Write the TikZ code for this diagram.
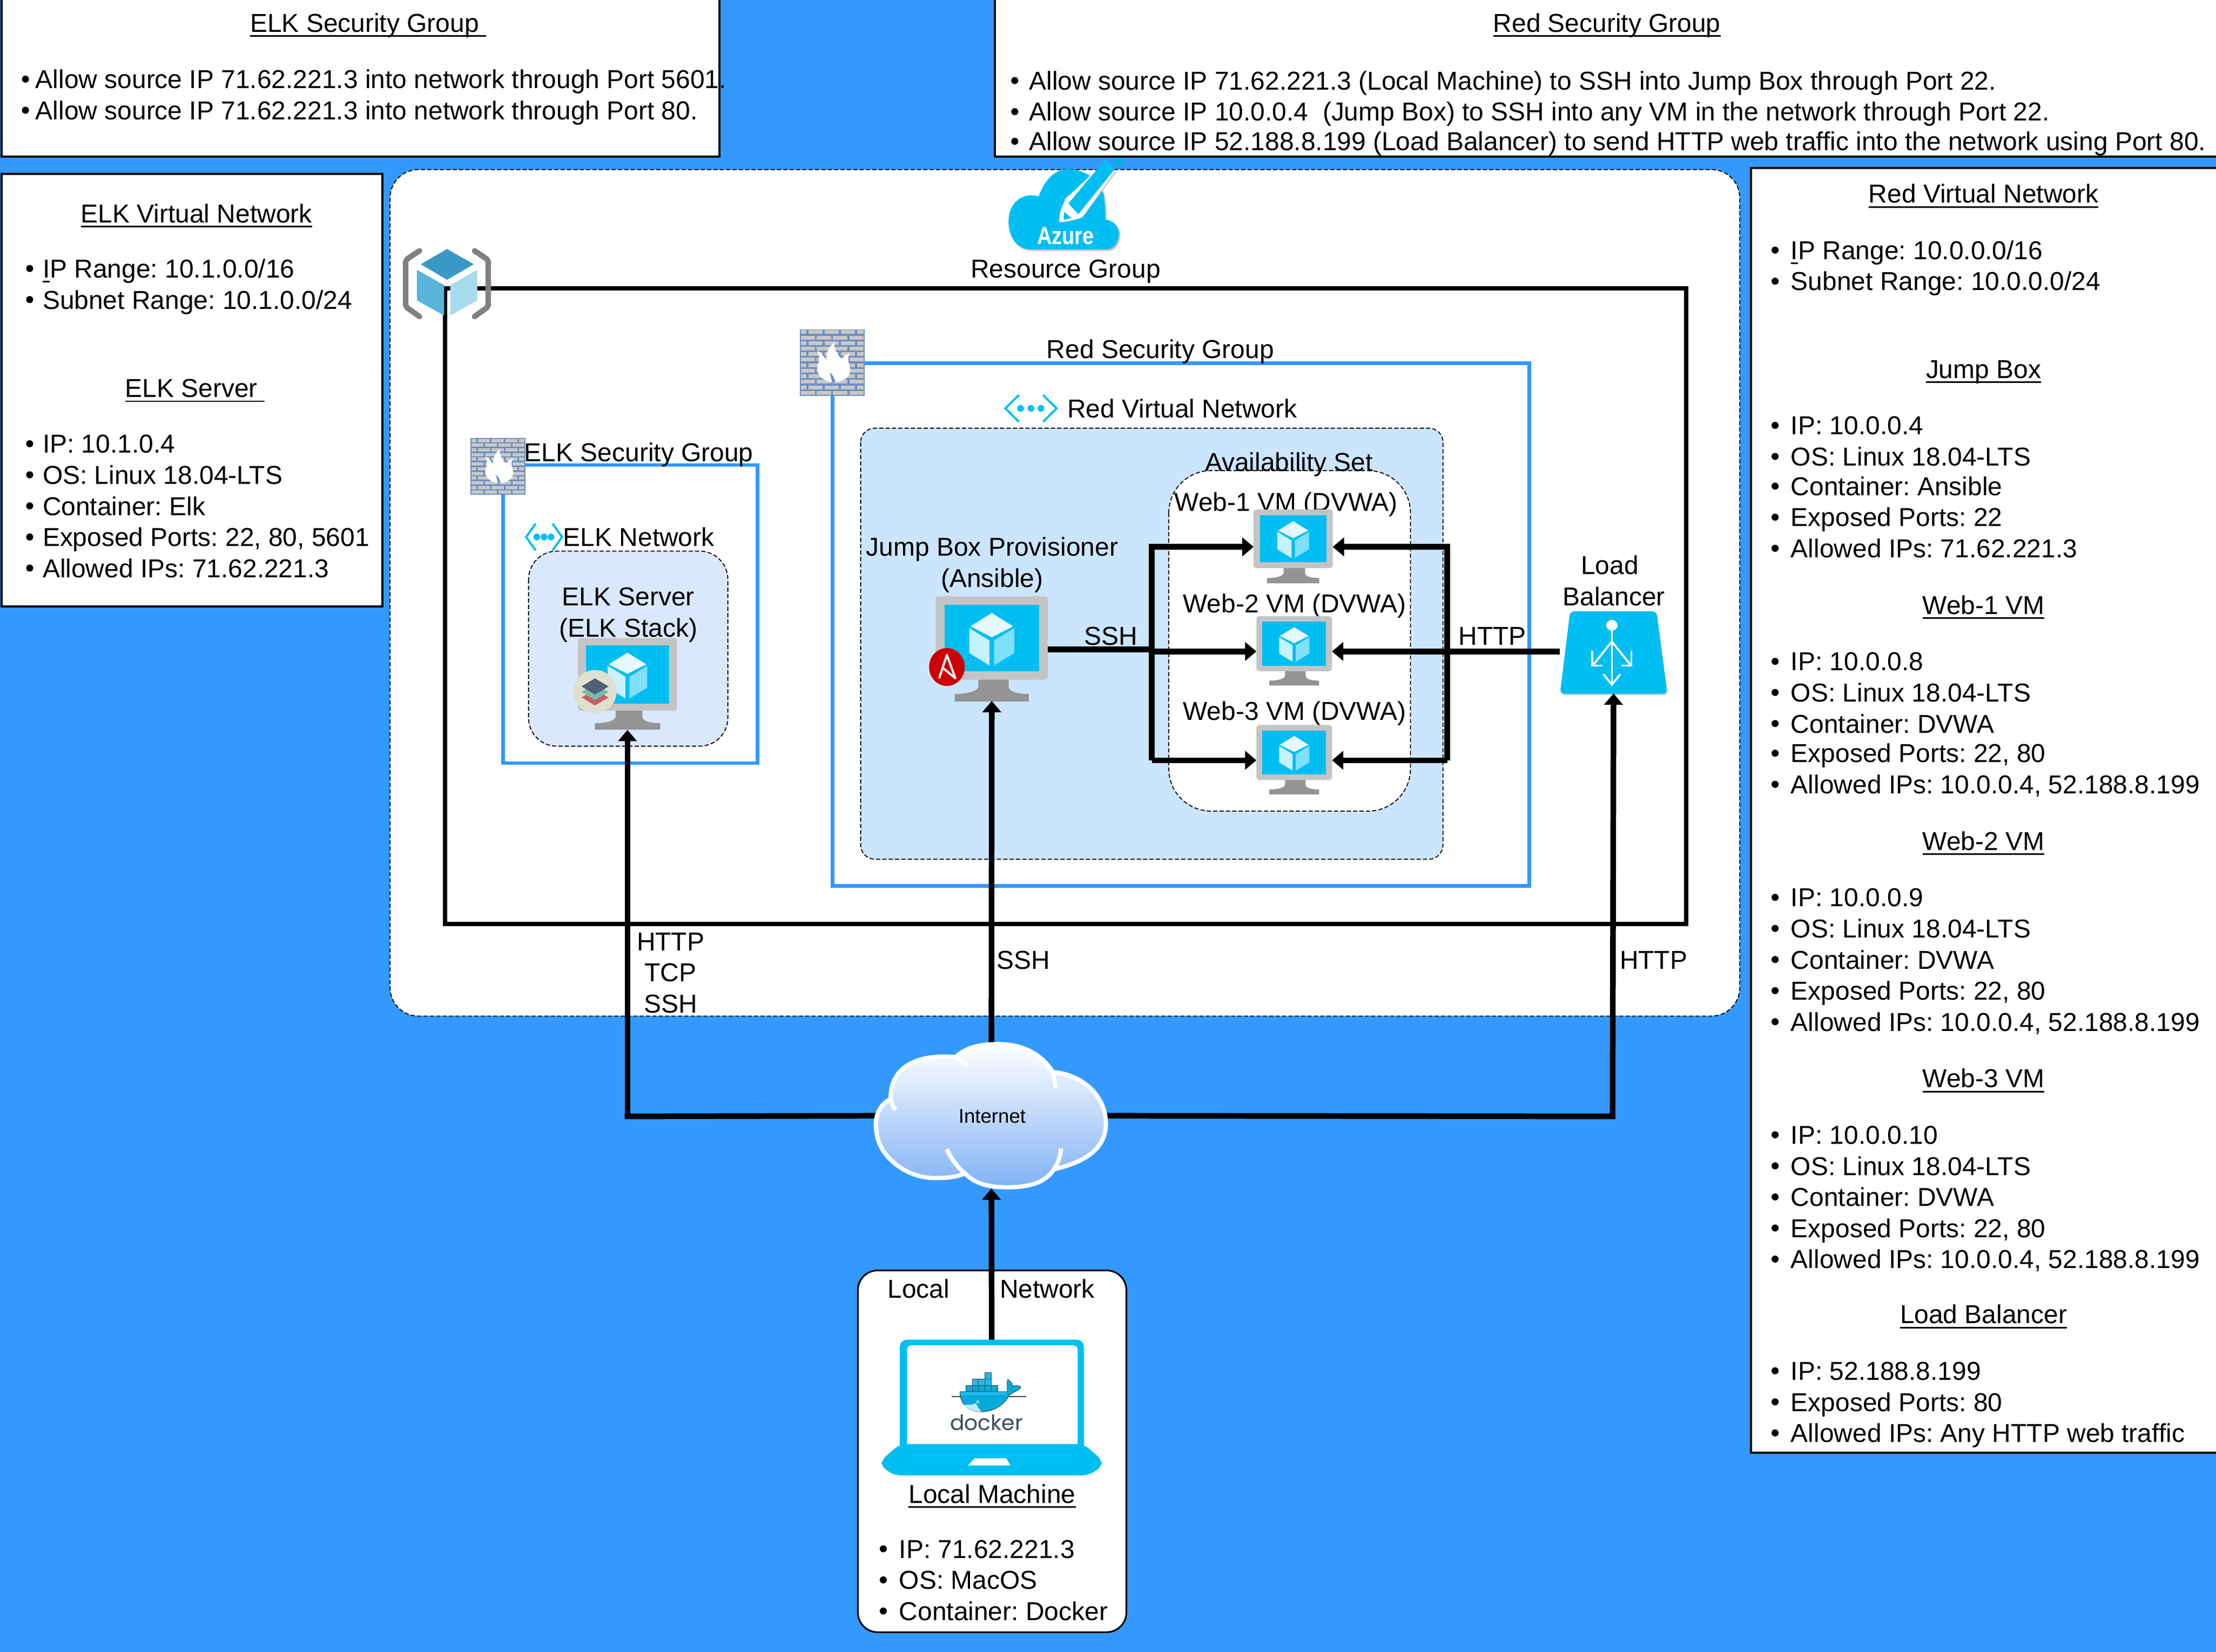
\documentclass[tikz,border=0pt]{standalone}
\usepackage{fontspec}
\setmainfont{Liberation Sans}
\newfontfamily\dockerfont{Poppins}
\usetikzlibrary{arrows.meta,shapes.geometric}
\definecolor{bgblue}{HTML}{3399FF}
\definecolor{azcyan}{HTML}{00BEF2}
\definecolor{panelgray}{HTML}{C4C4C4}
\definecolor{standgray}{HTML}{949494}
\definecolor{netfill}{HTML}{CCE5FF}
\definecolor{elkfill}{HTML}{DAE8FC}
\definecolor{brickline}{HTML}{6C8EBF}
\definecolor{brick}{HTML}{C8C8C8}
\definecolor{dkone}{HTML}{00AADA}
\definecolor{dktwo}{HTML}{22B8EB}
\definecolor{dkthree}{HTML}{394D54}
\definecolor{cubetop}{HTML}{3999C6}
\definecolor{cubeleft}{HTML}{59B4D9}
\definecolor{cuberight}{HTML}{A9DBEE}
\tikzset{
 txt/.style={font=\frenchspacing\fontsize{18.32pt}{22pt}\selectfont,inner sep=0pt,text=black,text height=13.2pt,text depth=0pt},
 infobox/.style={draw=black,fill=white,line width=1.5pt,outer sep=0pt},
 conn/.style={draw=black,line width=4pt},
 arr/.style={draw=black,line width=4pt,-{Triangle[length=8pt,width=13pt]}},
 sgbox/.style={draw=bgblue,line width=2.5pt},
 iconbox/.style={inner sep=0pt,outer sep=0pt,minimum width=0pt,minimum height=0pt},
 thindash/.style={draw=black,line width=0.7pt,dash pattern=on 3pt off 1.5pt},
}
\newsavebox{\ulbox}
\newcommand{\ul}[1]{\sbox{\ulbox}{#1}\leavevmode\rlap{\rule[-3.4pt]{\wd\ulbox}{1.1pt}}\usebox{\ulbox}}
\newcommand{\blist}[4]{% x of bullet, x of text, y, text
 \node[txt,anchor=west] at (#2,#3) {#4};
 \fill[black] (#1,#3) circle (2.5pt);}
\newcommand{\vmicon}[6]{% name x0 y0 x1 y1 ybottom
 \node[iconbox,rectangle,minimum width={(#4-#2)*1pt},minimum height={(#6-#3)*1pt},anchor=north west] (#1) at (#2,#3) {};
 \begin{scope}[shift={(#2,#3)},xscale={(#4-#2)/100},yscale={(#5-#3)/100}]
  \fill[standgray] (38,98) -- (38,108) .. controls (38,113) and (30,117) .. (17,117) -- (17,126) -- (83,126) -- (83,117) .. controls (70,117) and (65,113) .. (65,108) -- (65,98) -- cycle;
  \fill[panelgray,rounded corners=2pt] (0,0) rectangle (100,100);
  \fill[azcyan] (8,10) rectangle (92,90);
  \fill[white!90!azcyan] (50,20) -- (69,36) -- (50,49) -- (31,36) -- cycle;
  \fill[white!78!azcyan] (30,38) -- (48,53) -- (48,83) -- (30,68) -- cycle;
  \fill[white!50!azcyan] (70,38) -- (52,53) -- (52,83) -- (70,68) -- cycle;
 \end{scope}}
\newcommand{\firewall}[5]{% name x0 y0 x1 y1
 \node[iconbox,rectangle,fill=brickline,minimum width={(#4-#2)*1pt},minimum height={(#5-#3)*1pt},anchor=north west] (#1) at (#2,#3) {};
 \begin{scope}[shift={(#2,#3)},xscale={(#4-#2)/100},yscale={(#5-#3)/100}]
  \foreach \rw in {0,2,4,6,8,10}{
    \foreach \ba/\bb in {2/10,13/35,38/60,63/85,88/98}
      \fill[brick] (\ba,\rw*8.33+1.3) rectangle (\bb,\rw*8.33+7);
    \foreach \ba/\bb in {2/23,26/48,51/73,76/98}
      \fill[brick] (\ba,\rw*8.33+9.6) rectangle (\bb,\rw*8.33+15.3);
  }
  \begin{scope}[shift={(27,20)},xscale=1.19,yscale=0.952,shift={(-30,-25)}]
  \fill[white] (50,88) .. controls (32,85) and (26,70) .. (32,55) .. controls (34,48) and (30,42) .. (30,38) .. controls (36,42) and (40,50) .. (42,55) .. controls (40,40) and (46,30) .. (52,25) .. controls (50,38) and (60,50) .. (62,52) .. controls (62,48) and (66,44) .. (72,42) .. controls (66,50) and (74,65) .. (72,72) .. controls (70,82) and (62,87) .. (50,88) -- cycle;
  \fill[brickline] (49,88) .. controls (48,80) and (46,76) .. (46,72) .. controls (49,76) and (52,80) .. (53,88) -- cycle;
  \end{scope}
 \end{scope}}
\newcommand{\vneticon}[4]{% name xleft xright y
 \node[iconbox,rectangle,minimum width={(#3-#2)*1pt},minimum height=22pt,anchor=center] (#1) at ({(#2+#3)/2},#4) {};
 \begin{scope}[shift={(#2,#4)},xscale={(#3-#2)/100}]
  \draw[azcyan,line width=1.5pt] (27,-9.5) -- (1,0) -- (27,9.5);
  \draw[azcyan,line width=1.5pt] (73,-9.5) -- (99,0) -- (73,9.5);
  \fill[azcyan] (30,0) ellipse ({240/(#3-#2)} and 2.4);
  \fill[azcyan] (50,0) ellipse ({240/(#3-#2)} and 2.4);
  \fill[azcyan] (69,0) ellipse ({240/(#3-#2)} and 2.4);
 \end{scope}}
\begin{document}
\begin{tikzpicture}[x=1pt,y=-1pt]
\useasboundingbox (0,0) rectangle (1568,1169);
\fill[bgblue] (0,0) rectangle (1568,1169);

% ---- ELK security group info
\node[infobox,rectangle,anchor=north west,minimum width=508pt,minimum height=112pt,inner sep=0pt] (elksginfo) at (1,-1) {};
\node[txt] at (260.5,16) {\ul{ELK Security Group\ }};
\blist{18}{25}{56}{Allow source IP 71.62.221.3 into network through Port 5601.}
\blist{18}{25}{78}{Allow source IP 71.62.221.3 into network through Port 80.}

% ---- Red security group info
\node[infobox,rectangle,anchor=north west,minimum width=870pt,minimum height=112pt,inner sep=0pt] (redsginfo) at (704,-1) {};
\node[txt] at (1137,16) {\ul{Red Security Group}};
\blist{718}{728}{57}{Allow source IP 71.62.221.3 (Local Machine) to SSH into Jump Box through Port 22.}
\blist{718}{728}{79}{Allow source IP 10.0.0.4 \ (Jump Box) to SSH into any VM in the network through Port 22.}
\blist{718}{728}{100}{Allow source IP 52.188.8.199 (Load Balancer) to send HTTP web traffic into the network using Port 80.}

% ---- ELK Virtual Network info
\node[infobox,rectangle,anchor=north west,minimum width=269.5pt,minimum height=306pt,inner sep=0pt] (elkinfo) at (1,123) {};
\node[txt] at (139,151) {\ul{ELK Virtual Network}};
\blist{21}{30}{190}{\ul{I}P Range: 10.1.0.0/16}
\blist{21}{30}{212}{Subnet Range: 10.1.0.0/24}
\node[txt] at (138,274.5) {\ul{ELK Server\ }};
\blist{21}{30}{314}{IP: 10.1.0.4}
\blist{21}{30}{336}{OS: Linux 18.04-LTS}
\blist{21}{30}{358}{Container: Elk}
\blist{21}{30}{380}{Exposed Ports: 22, 80, 5601}
\blist{21}{30}{402}{Allowed IPs: 71.62.221.3}

% ---- Red Virtual Network info
\node[infobox,rectangle,anchor=north west,minimum width=335pt,minimum height=909pt,inner sep=0pt] (redinfo) at (1239,119) {};
\node[txt] at (1403.5,137) {\ul{Red Virtual Network}};
\blist{1256}{1267}{177}{\ul{I}P Range: 10.0.0.0/16}
\blist{1256}{1267}{199}{Subnet Range: 10.0.0.0/24}
\node[txt] at (1403.5,261) {\ul{Jump Box}};
\blist{1256}{1267}{301}{IP: 10.0.0.4}
\blist{1256}{1267}{323}{OS: Linux 18.04-LTS}
\blist{1256}{1267}{344}{Container: Ansible}
\blist{1256}{1267}{366}{Exposed Ports: 22}
\blist{1256}{1267}{388}{Allowed IPs: 71.62.221.3}
\node[txt] at (1403.5,428) {\ul{Web-1 VM}};
\blist{1256}{1267}{468}{IP: 10.0.0.8}
\blist{1256}{1267}{490}{OS: Linux 18.04-LTS}
\blist{1256}{1267}{512}{Container: DVWA}
\blist{1256}{1267}{533}{Exposed Ports: 22, 80}
\blist{1256}{1267}{555}{Allowed IPs: 10.0.0.4, 52.188.8.199}
\node[txt] at (1403.5,595) {\ul{Web-2 VM}};
\blist{1256}{1267}{635}{IP: 10.0.0.9}
\blist{1256}{1267}{657}{OS: Linux 18.04-LTS}
\blist{1256}{1267}{679}{Container: DVWA}
\blist{1256}{1267}{701}{Exposed Ports: 22, 80}
\blist{1256}{1267}{723}{Allowed IPs: 10.0.0.4, 52.188.8.199}
\node[txt] at (1403.5,763) {\ul{Web-3 VM}};
\blist{1256}{1267}{803}{IP: 10.0.0.10}
\blist{1256}{1267}{825}{OS: Linux 18.04-LTS}
\blist{1256}{1267}{847}{Container: DVWA}
\blist{1256}{1267}{869}{Exposed Ports: 22, 80}
\blist{1256}{1267}{891}{Allowed IPs: 10.0.0.4, 52.188.8.199}
\node[txt] at (1403.5,930) {\ul{Load Balancer}};
\blist{1256}{1267}{970}{IP: 52.188.8.199}
\blist{1256}{1267}{992}{Exposed Ports: 80}
\blist{1256}{1267}{1014}{Allowed IPs: Any HTTP web traffic}

% ---- Resource area
\draw[thindash,fill=white,rounded corners=20pt] (276,120) rectangle (1231,719);
\node[iconbox,rectangle,draw=black,line width=3pt,minimum width=878pt,minimum height=450pt,anchor=north west] (rg) at (315,204) {};
% cube icon
\draw[color=black!50,line width=3.9pt,line cap=round,line join=round,rounded corners=2pt] (296.8,177.5) -- (287,184) -- (287,217) -- (296.8,224);
\draw[color=black!50,line width=3.9pt,line cap=round,line join=round,rounded corners=2pt] (335.8,177.5) -- (345.5,184) -- (345.5,217) -- (335.8,224);
\fill[cubetop] (316.3,176.2) -- (335.2,187) -- (316.3,198) -- (297.7,187) -- cycle;
\fill[cubeleft] (295,191) -- (314.3,201.8) -- (314.3,223.3) -- (295,212.6) -- cycle;
\fill[cuberight] (318.6,201.8) -- (337.7,191) -- (337.7,212.6) -- (318.6,223.3) -- cycle;

% Azure logo
\fill[panelgray] (730,177.6) .. controls (720,177.6) and (714.5,168) .. (714.6,157.9) .. controls (714.6,146) and (722,139.4) .. (731,139.4) .. controls (733,139.4) and (735,140) .. (736,140.1) .. controls (740,128) and (748,120.9) .. (756.4,120.9) .. controls (768,120.9) and (780,128) .. (782,140) .. controls (783,146) and (783,152) .. (783,156.6) .. controls (787,156.6) and (792.7,160) .. (792.7,166.8) .. controls (792.7,172) and (789,177.6) .. (784.5,177.6) -- cycle;
\fill[azcyan] (729,176.4) .. controls (719,176.4) and (713.6,167) .. (713.6,156.7) .. controls (713.6,145) and (721,138.2) .. (730,138.2) .. controls (732,138.2) and (734,138.8) .. (735,138.9) .. controls (739,127) and (747,119.7) .. (755.4,119.7) .. controls (767,119.7) and (779,127) .. (781,139) .. controls (782,145) and (782,151) .. (782,155.4) .. controls (786,155.4) and (791.7,159) .. (791.7,165.6) .. controls (791.7,171) and (788,176.4) .. (783.5,176.4) -- cycle;
\fill[dkone!70!azcyan] (786,112) -- (794.5,112) .. controls (795,115) and (793,118) .. (791,118.5) -- cycle;
\fill[panelgray] (778,120) -- (790,121.5) -- (767,152.5) -- (753,141) -- cycle;
\fill[white] (777,119) -- (754,140.8) .. controls (751,147) and (749,152) .. (749.7,157.3) .. controls (755,157) and (761,155.5) .. (765.6,153.9) -- (789,121) -- cycle;
\fill[azcyan] (782.2,112.7) -- (788.8,119.7) -- (763,151.6) -- (756,144) -- cycle;
\fill[azcyan] (753.2,150) -- (758,154.3) -- (752.8,155.6) .. controls (752.4,154) and (752.6,152) .. (753.2,150) -- cycle;
\node[iconbox,font=\fontsize{14.5pt}{16pt}\selectfont\bfseries,text=white,transform shape,yscale=1.2] at (754,167) {Azure};
\node[txt] at (754,190) {Resource Group};

% Red security group
\node[iconbox,rectangle,sgbox,minimum width=493pt,minimum height=370pt,anchor=north west] (redsg) at (589,257) {};
\firewall{fwred}{566}{233}{612}{280}
\node[txt] at (821,247) {Red Security Group};
\vneticon{vnred}{711}{748}{289}
\node[txt,anchor=west] at (755,289) {Red Virtual Network};
\draw[thindash,fill=netfill,rounded corners=10pt] (609,303) rectangle (1021,608);
\draw[thindash,fill=white,rounded corners=30pt] (827,333) rectangle (998,574);
\node[txt] at (912,327) {Availability Set};

% ELK security group
\node[iconbox,rectangle,sgbox,minimum width=180pt,minimum height=211pt,anchor=north west] (elksg) at (356,329) {};
\firewall{fwelk}{333}{310}{372}{350}
\node[txt] at (452,320) {ELK Security Group};
\vneticon{vnelk}{372}{398}{380}
\node[txt] at (452,380) {ELK Network};
\draw[thindash,fill=elkfill,rounded corners=20pt] (374,390) rectangle (515,528);
\node[txt] at (444.5,422) {ELK Server};
\node[txt] at (444.5,444) {(ELK Stack)};

% Texts for the VMs
\node[txt] at (702,387) {Jump Box Provisioner};
\node[txt] at (702,409) {(Ansible)};
\node[txt] at (910,355) {Web-1 VM (DVWA)};
\node[txt] at (916,427) {Web-2 VM (DVWA)};
\node[txt] at (916,503) {Web-3 VM (DVWA)};
\node[txt] at (1139,400) {Load};
\node[txt] at (1142,422) {Balancer};

% VM icons
\vmicon{jump}{662}{422}{741.5}{481}{496}
\vmicon{web1}{887}{360.5}{943}{402}{413}
\vmicon{web2}{889}{436}{942.5}{475}{486}
\vmicon{web3}{889}{513}{942.5}{552}{562}
\vmicon{elk}{409}{451.6}{479}{503}{516.5}
% Ansible badge
\fill[color={rgb,255:red,204;green,0;blue,0}] (670,472) ellipse (12.6 and 13.4);
\draw[white,line width=1.5pt,line join=round] (664.5,480) -- (670,463.5) -- (676,480) -- (667,472.5);
% Layers badge
\fill[color={rgb,255:red,224;green,224;blue,209}] (421,489.4) circle (15.3pt);
\fill[color={rgb,255:red,204;green,94;blue,94}] (421,499.2) -- (411.5,493.5) -- (421,488) -- (430.6,493.5) -- cycle;
\fill[color={rgb,255:red,111;green,192;blue,172}] (421,495.4) -- (411.5,489.7) -- (421,484) -- (430.6,489.7) -- cycle;
\fill[color={rgb,255:red,79;green,96;blue,121}] (421,491.5) -- (411.5,485.8) -- (421,480) -- (430.6,485.8) -- cycle;

% Load balancer
\fill[panelgray,rounded corners=3pt] (1111.5,433.6) -- (1172.5,433.6) -- (1180,491.8) -- (1104.2,491.8) -- cycle;
\fill[azcyan,rounded corners=3pt] (1111,432.6) -- (1172,432.6) -- (1179.7,490.8) -- (1103.8,490.8) -- cycle;
\node[iconbox,rectangle,minimum width=76pt,minimum height=58pt] (lb) at (1141.7,461.7) {};
\begin{scope}[shift={(1140.5,461)}]
 \draw[white,line width=1.4pt] (0,-16) -- (0,23);
 \fill[white] (0,-18.5) ellipse (4 and 3.8);
 \draw[white,line width=1.4pt] (0,-7) -- (-13.6,10);
 \draw[white,line width=1.4pt] (0,-7) -- (13.6,10);
 \draw[white,line width=1.4pt] (-13.8,-0.5) -- (-13.8,10) -- (-6.6,10);
 \draw[white,line width=1.4pt] (13.8,-0.5) -- (13.8,10) -- (6.6,10);
 \draw[white,line width=1.4pt] (-6,16) -- (0,23.5) -- (6,16);
\end{scope}

% Red network connectors
\coordinate (sshin) at (815,459.5);
\coordinate (busLt) at (815,387);
\coordinate (busLm) at (815,461);
\coordinate (busLb) at (815,538);
\coordinate (busRt) at (1024,387);
\coordinate (busRm) at (1024,461);
\coordinate (busRb) at (1024,538);
\draw[conn] (jump.east |- sshin) -- ([xshift=2pt]sshin);
\draw[arr,line join=miter] (busLb) -- (busLt) -- (busLt -| web1.west);
\draw[arr] (busLm) -- (busLm -| web2.west);
\draw[arr] (busLb) -- (busLb -| web3.west);
\draw[conn] ([yshift=2pt]busLb) -- (busLt);
\draw[arr,line join=miter] (busRb) -- (busRt) -- (busRt -| web1.east);
\draw[arr] (lb.west |- busRm) -- (busRm -| web2.east);
\draw[arr] (busRb) -- (busRb -| web3.east);
\draw[conn] ([yshift=2pt]busRb) -- (busRt);
\node[txt] at (786,450) {SSH};
\node[txt] at (1056,450) {HTTP};

% Cloud & laptop nodes
\node[iconbox,rectangle,minimum width=163pt,minimum height=103pt] (internet) at (701.5,789.5) {};
\coordinate (lbdrop) at (1141,790);
\coordinate (elkdrop) at (444,790);

\draw[arr] (internet.north) -- (jump.south);
\draw[arr] (elkdrop) -- (elk.south);
\draw[conn] (internet.west) -- ([xshift=-2pt]elkdrop);
\draw[conn] (internet.east) -- ([xshift=2pt]lbdrop);
\draw[arr] (lbdrop) -- (lb.south);
\node[txt] at (474.5,666) {HTTP};
\node[txt] at (474.5,688) {TCP};
\node[txt] at (474.5,710) {SSH};
\node[txt] at (724,679) {SSH};
\node[txt] at (1170,679) {HTTP};

% Local machine box
\draw[draw=black,line width=1.2pt,fill=white,rounded corners=14pt] (607,899) rectangle (797,1155);
\node[iconbox,rectangle,minimum width=156pt,minimum height=96pt] (laptop) at (701.7,996) {};
\node[txt] at (650,912) {Local};
\node[txt] at (741,912) {Network};
\fill[azcyan,rounded corners=5pt] (636.7,1030) -- (636.7,948) -- (766.9,948) -- (766.9,1030) -- cycle;
\fill[azcyan,rounded corners=4pt] (636.7,1022) -- (766.9,1022) -- (779.6,1033) -- (779.6,1038) -- (770,1044) -- (633,1044) -- (623.8,1038) -- (623.8,1033) -- cycle;
\fill[white,rounded corners=3pt] (641.8,1030) -- (641.8,952) -- (762.5,952) -- (762.5,1030) -- cycle;
\fill[azcyan] (636.7,1022) rectangle (766.9,1030);
\fill[white] (689.5,1032) -- (712,1032) -- (715,1037) -- (685,1037) -- cycle;
% Docker logo
\begin{scope}[shift={(665,966.9)},scale=0.1274]
 \draw[dkthree,line width=0.5pt] (65,168) -- (480,168);
 \foreach \bx in {145,180,215,250,285}
   \fill[dkone,draw=dkthree,line width=0.4pt] (\bx,105) rectangle (\bx+36,140);
 \foreach \bx in {180,215,250}
   \fill[dktwo,draw=dkthree,line width=0.4pt] (\bx,70) rectangle (\bx+36,105);
 \fill[dktwo,draw=dkthree,line width=0.4pt] (250,35) rectangle (286,70);
 \fill[dkone,draw=dkthree,line width=0.4pt] (112,140) -- (372,140) .. controls (380,125) and (368,90) .. (378,72) .. controls (395,85) and (402,95) .. (405,110) .. controls (420,105) and (440,105) .. (450,115) .. controls (440,135) and (410,140) .. (385,160) .. controls (350,230) and (280,252) .. (230,252) .. controls (150,252) and (110,200) .. (112,140) -- cycle;
 \fill[dktwo] (114,142) -- (370,142) -- (370,160) .. controls (340,150) and (320,170) .. (300,160) .. controls (280,150) and (260,170) .. (240,160) .. controls (220,150) and (200,170) .. (180,160) .. controls (160,150) and (140,170) .. (116,160) -- cycle;
 \fill[white!75!dkone] (132,212) .. controls (160,215) and (180,215) .. (200,205) .. controls (210,225) and (225,245) .. (230,252) .. controls (190,252) and (155,240) .. (132,212) -- cycle;
 \fill[white] (211,197) circle (8);
 \fill[dkthree] (211,197) circle (4.5);
\end{scope}
\node[iconbox,text=dkthree,font=\dockerfont\fontsize{15pt}{18pt}\selectfont] at (698,1006.5) {docker};
\node[txt] at (702,1057) {\ul{Local Machine}};
\blist{625}{636}{1096}{IP: 71.62.221.3}
\blist{625}{636}{1118}{OS: MacOS}
\blist{625}{636}{1140}{Container: Docker}
\draw[arr] (laptop.north) -- (internet.south);

% Internet cloud
\begin{scope}[shift={(603.8,726.1)},xscale=0.14625,yscale=0.2194]
 \shade[top color=white,middle color={rgb,255:red,184;green,215;blue,255},bottom color={rgb,255:red,130;green,178;blue,245},draw=white,line width=3pt]
  (180,235) .. controls (120,255) and (100,300) .. (112,340) .. controls (120,420) and (260,495) .. (410,490) .. controls (460,490) and (510,485) .. (540,475)
  .. controls (590,510) and (660,520) .. (745,520) .. controls (850,520) and (930,505) .. (970,462)
  .. controls (1110,440) and (1222,400) .. (1222,315) .. controls (1222,220) and (1100,155) .. (965,148)
  .. controls (910,90) and (820,58) .. (700,58) .. controls (610,58) and (540,70) .. (495,100)
  .. controls (420,95) and (180,90) .. (180,235) -- cycle;
 \draw[white,line width=3pt] (180,235) .. controls (182,245) and (190,260) .. (205,270);
 \draw[white,line width=3pt] (495,100) .. controls (515,108) and (530,115) .. (552,125);
 \draw[white,line width=3pt] (965,148) .. controls (970,165) and (975,180) .. (978,200);
 \draw[white,line width=3pt] (1005,395) .. controls (1000,425) and (985,450) .. (970,462);
 \draw[white,line width=3pt] (452,397) .. controls (470,425) and (510,460) .. (540,475);
\end{scope}
\node[iconbox,font=\fontsize{14pt}{16pt}\selectfont] at (702,790) {Internet};
\end{tikzpicture}
\end{document}
